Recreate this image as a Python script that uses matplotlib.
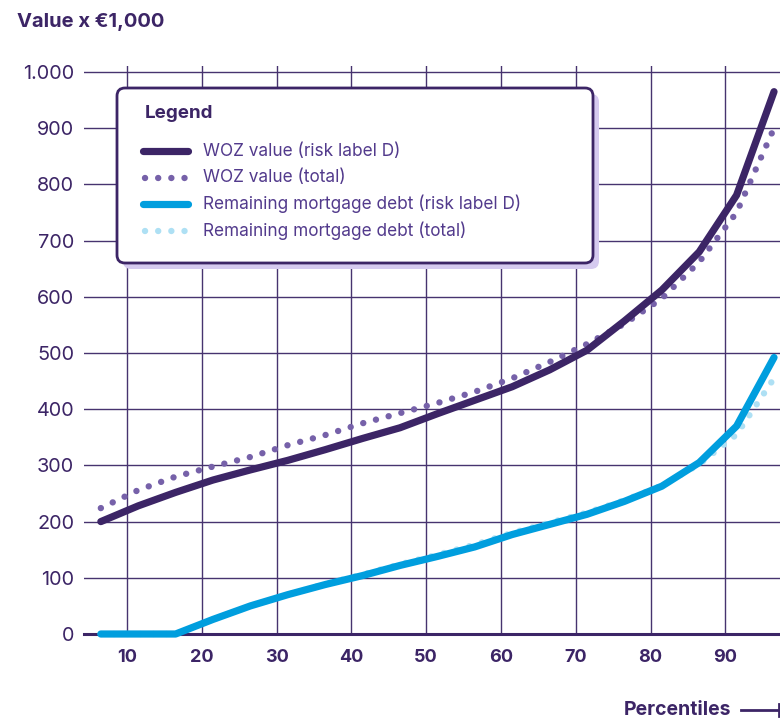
import matplotlib
matplotlib.use("Agg")
import matplotlib.pyplot as plt
from matplotlib.patches import FancyBboxPatch
from matplotlib.lines import Line2D

plt.rcParams['font.family'] = ['Inter', 'DejaVu Sans']

# ---------------- data ----------------
percentiles = [6.5, 11.5, 16.5, 21.5, 26.5, 31.5, 36.5, 41.5, 46.5, 51.5,
               56.5, 61.5, 66.5, 71.5, 76.5, 81.5, 86.5, 91.5, 96.5]
woz_d = [200, 228, 252, 274, 292, 309, 328, 348, 367, 392,
         416, 440, 470, 505, 557, 612, 680, 781, 965]
woz_total = [224, 256, 280, 298, 315, 336, 354, 375, 393, 411,
             431, 455, 484, 516, 552, 597, 662, 750, 900]
debt_d = [0, 0, 0, 26, 50, 70, 88, 104, 122, 138,
          155, 177, 195, 213, 236, 263, 305, 370, 492]
debt_total = [0, 0, 0, 26, 50, 70, 89, 106, 124, 141,
              159, 180, 198, 216, 238, 264, 302, 355, 455]
x_ticks = [10, 20, 30, 40, 50, 60, 70, 80, 90]
y_ticks = [0, 100, 200, 300, 400, 500, 600, 700, 800, 900, 1000]
y_tick_labels = ["0", "100", "200", "300", "400", "500", "600", "700", "800", "900", "1.000"]
legend_labels = ["WOZ value (risk label D)", "WOZ value (total)",
                 "Remaining mortgage debt (risk label D)", "Remaining mortgage debt (total)"]

# ---------------- style ----------------
DARK = "#3c2566"
GRID = "#47336f"
DOT_PURPLE = "#7661a9"
BLUE = "#009ede"
LIGHT_BLUE = "#aee0f4"
TEXT_PURPLE = "#523a8c"
SHADOW = "#d5caef"

W, H = 780, 718
fig = plt.figure(figsize=(W / 100, H / 100), dpi=100)
fig.patch.set_facecolor("white")

ax_left, ax_right, ax_top, ax_bottom = 84, 780, 66, 634
ax = fig.add_axes([ax_left / W, (H - ax_bottom) / H,
                   (ax_right - ax_left) / W, (ax_bottom - ax_top) / H])
ax.set_xlim(4.25, 97.3)
ax.set_ylim(0, 1010.7)
for s in ax.spines.values():
    s.set_visible(False)

ax.set_xticks(x_ticks)
ax.set_xticklabels([str(v) for v in x_ticks])
ax.set_yticks(y_ticks)
ax.set_yticklabels(y_tick_labels)
ax.tick_params(axis='both', length=0)
ax.tick_params(axis='y', pad=7, labelsize=14.3, labelcolor=DARK)
ax.tick_params(axis='x', pad=11, labelsize=13, labelcolor=DARK)
for lbl in ax.get_xticklabels():
    lbl.set_fontweight('bold')

ax.grid(True, color=GRID, lw=1.0, zorder=0)
ax.set_axisbelow(True)
ax.axhline(0, color=DARK, lw=2.2, zorder=1, clip_on=False)

DOTS = (0, (0.01, 2.05))
ax.plot(percentiles, woz_total, color=DOT_PURPLE, lw=4.6, linestyle=DOTS,
        dash_capstyle='round', zorder=3, clip_on=False)
ax.plot(percentiles, debt_total, color=LIGHT_BLUE, lw=4.6, linestyle=DOTS,
        dash_capstyle='round', zorder=3, clip_on=False)
ax.plot(percentiles, debt_d, color=BLUE, lw=5.2, solid_capstyle='round',
        solid_joinstyle='round', zorder=4, clip_on=False)
ax.plot(percentiles, woz_d, color=DARK, lw=5.2, solid_capstyle='round',
        solid_joinstyle='round', zorder=4, clip_on=False)

# ---------------- texts ----------------
def fx(x):
    return x / W

def fy(y):
    return 1 - y / H

fig.text(fx(17), fy(22), "Value x €1,000", fontsize=14.5, fontweight='bold',
         color=DARK, ha='left', va='center')
fig.text(fx(731), fy(710), "Percentiles", fontsize=14, fontweight='bold',
         color=DARK, ha='right', va='center')
fig.add_artist(Line2D([fx(741), fx(779)], [fy(710), fy(710)], color=DARK, lw=2.0,
                      transform=fig.transFigure))
fig.add_artist(Line2D([fx(779), fx(779)], [fy(704), fy(716)], color=DARK, lw=2.0,
                      transform=fig.transFigure))

# ---------------- legend (manual box) ----------------
tr = fig.dpi_scale_trans
bx0, by0, bx1, by1 = 117, 88, 593, 263
shadow = FancyBboxPatch(((bx0 + 6) / 100, (H - by1 - 6) / 100),
                        (bx1 - bx0) / 100, (by1 - by0) / 100,
                        boxstyle="round,pad=0,rounding_size=0.08",
                        facecolor=SHADOW, edgecolor='none', transform=tr, zorder=10)
box = FancyBboxPatch((bx0 / 100, (H - by1) / 100),
                     (bx1 - bx0) / 100, (by1 - by0) / 100,
                     boxstyle="round,pad=0,rounding_size=0.08",
                     facecolor='white', edgecolor=DARK, lw=2.0, transform=tr, zorder=11)
fig.add_artist(shadow)
fig.add_artist(box)

fig.text(fx(145), fy(113), "Legend", fontsize=13.5, fontweight='bold', color=DARK,
         ha='left', va='center', zorder=12)

row_y = [151, 178, 204, 231]
handle_styles = [
    dict(color=DARK, lw=5.2, solid_capstyle='round'),
    dict(color=DOT_PURPLE, lw=4.6, linestyle=DOTS, dash_capstyle='round'),
    dict(color=BLUE, lw=5.2, solid_capstyle='round'),
    dict(color=LIGHT_BLUE, lw=4.6, linestyle=DOTS, dash_capstyle='round'),
]
for ry, lab, st in zip(row_y, legend_labels, handle_styles):
    if st.get('linestyle') is None:
        xs = [143 / 100, 188 / 100]
    else:
        xs = [145 / 100, 186 / 100]
    fig.add_artist(Line2D(xs, [(H - ry) / 100] * 2, transform=tr, zorder=12, **st))
    fig.text(fx(203), fy(ry), lab, fontsize=12.4, color=TEXT_PURPLE,
             ha='left', va='center', zorder=12)

fig.savefig("out.png", dpi=100, facecolor='white')
